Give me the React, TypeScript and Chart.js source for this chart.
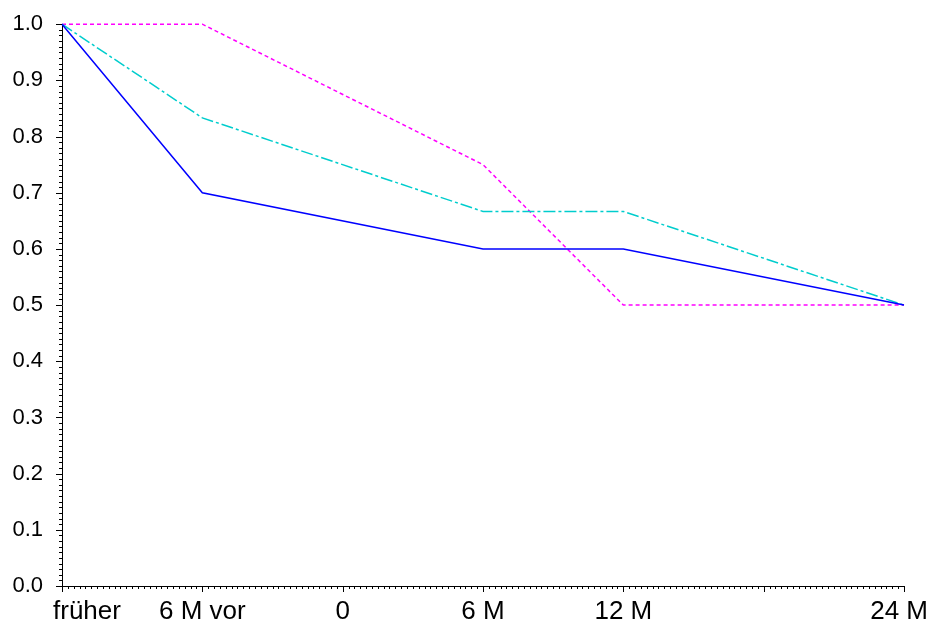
import React, { useEffect, useRef } from "react";
import { Chart, registerables } from "chart.js";

Chart.register(...registerables);

// X positions (category slots) and their labels; slot 5 has a tick but no label
const xTickValues = [0, 1, 2, 3, 4, 5, 6];
const xTickLabels = ["früher", "6 M vor", "0", "6 M", "12 M", "", "24 M"];

// Series (x slot, y value)
const blueX = [0, 1, 3, 4, 6];
const blueY = [1.0, 0.7, 0.6, 0.6, 0.5];
const cyanX = [0, 1, 3, 4, 6];
const cyanY = [1.0, 0.8333, 0.6667, 0.6667, 0.5];
const magentaX = [0, 1, 3, 4, 6];
const magentaY = [1.0, 1.0, 0.75, 0.5, 0.5];

const yMin = 0;
const yMax = 1;
const yStep = 0.1;
const yMinorPerMajor = 10;
const xMinorPerMajor = 24;

const FONT = "'Liberation Sans', Arial, Helvetica, sans-serif";

function toPoints(xs: number[], ys: number[]) {
  return xs.map((x, i) => ({ x, y: ys[i] }));
}

const axisPlugin = {
  id: "axisDecor",
  afterDraw(chart: any) {
    const ctx = chart.ctx as CanvasRenderingContext2D;
    const xs = chart.scales.x;
    const ys = chart.scales.y;
    const area = chart.chartArea;
    ctx.save();
    ctx.strokeStyle = "#000";
    ctx.lineWidth = 1;
    ctx.beginPath();
    // x ticks
    const xmin = xTickValues[0];
    const xmax = xTickValues[xTickValues.length - 1];
    for (let i = 0; i <= (xmax - xmin) * xMinorPerMajor; i++) {
      const v = xmin + i / xMinorPerMajor;
      const px = Math.round(xs.getPixelForValue(v)) + 0.5;
      const len = i % xMinorPerMajor === 0 ? 6 : 3;
      ctx.moveTo(px, area.bottom);
      ctx.lineTo(px, area.bottom + len);
    }
    // y ticks
    const nY = Math.round((yMax - yMin) / yStep) * yMinorPerMajor;
    for (let i = 0; i <= nY; i++) {
      const v = yMin + (i * yStep) / yMinorPerMajor;
      const py = Math.round(ys.getPixelForValue(v)) + 0.5;
      const len = i % yMinorPerMajor === 0 ? 6 : 3;
      ctx.moveTo(area.left, py);
      ctx.lineTo(area.left - len, py);
    }
    ctx.stroke();

    // x labels
    ctx.fillStyle = "#000";
    ctx.font = `26px ${FONT}`;
    ctx.textBaseline = "middle";
    ctx.textAlign = "left";
    const minLeft = area.left - 9;
    const maxRight = chart.width - 7;
    xTickValues.forEach((v, i) => {
      const label = xTickLabels[i];
      if (!label) return;
      const w = ctx.measureText(label).width;
      let left = xs.getPixelForValue(v) - w / 2;
      if (left < minLeft) left = minLeft;
      if (left + w > maxRight) left = maxRight - w;
      ctx.fillText(label, left, area.bottom + 26);
    });
    ctx.restore();
  },
};

export default function App() {
  const canvasRef = useRef<HTMLCanvasElement | null>(null);

  useEffect(() => {
    if (!canvasRef.current) return;
    const chart = new Chart(canvasRef.current, {
      type: "line",
      data: {
        datasets: [
          {
            label: "blue",
            data: toPoints(blueX, blueY),
            borderColor: "#0000ff",
            borderWidth: 1.5,
            pointRadius: 0,
            tension: 0,
            fill: false,
            clip: false as any,
          },
          {
            label: "cyan",
            data: toPoints(cyanX, cyanY),
            borderColor: "#00cdcd",
            borderWidth: 1.5,
            borderDash: [12, 3, 3, 3],
            pointRadius: 0,
            tension: 0,
            fill: false,
            clip: false as any,
          },
          {
            label: "magenta",
            data: toPoints(magentaX, magentaY),
            borderColor: "#ff00ff",
            borderWidth: 1.5,
            borderDash: [4, 3],
            pointRadius: 0,
            tension: 0,
            fill: false,
            clip: false as any,
          },
        ],
      },
      options: {
        animation: false,
        responsive: true,
        maintainAspectRatio: false,
        layout: { padding: { top: 19.5, right: 31, left: 0, bottom: 0 } },
        plugins: {
          legend: { display: false },
          tooltip: { enabled: false },
          title: { display: false },
        },
        scales: {
          x: {
            type: "linear",
            min: xTickValues[0],
            max: xTickValues[xTickValues.length - 1],
            grid: { display: false },
            border: { display: true, color: "#000", width: 1 },
            ticks: { display: false, stepSize: 1 },
            afterFit(scale: any) {
              scale.height = 38;
            },
          },
          y: {
            type: "linear",
            min: yMin,
            max: yMax,
            grid: { display: false },
            border: { display: true, color: "#000", width: 1 },
            ticks: {
              stepSize: yStep,
              color: "#000",
              padding: 11,
              font: { family: FONT, size: 22 },
              callback: (v: any) => Number(v).toFixed(1),
            },
            afterFit(scale: any) {
              scale.width = 62;
            },
          },
        },
      },
      plugins: [axisPlugin],
    });
    return () => chart.destroy();
  }, []);

  return (
    <div
      style={{
        position: "absolute",
        left: 0,
        top: 0,
        width: 935,
        height: 624,
        background: "#fff",
      }}
    >
      <canvas ref={canvasRef} />
    </div>
  );
}
